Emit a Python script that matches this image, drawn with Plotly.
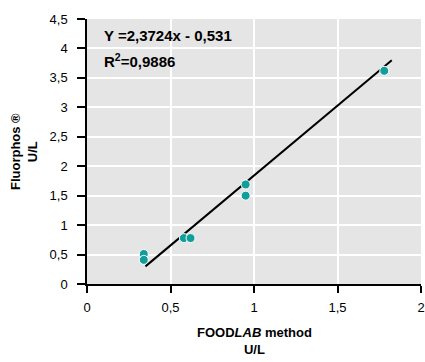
import plotly.graph_objects as go

x_vals = [0.34, 0.34, 0.58, 0.62, 0.95, 0.95, 1.78]
y_vals = [0.51, 0.41, 0.78, 0.78, 1.69, 1.50, 3.62]
slope = 2.3724
intercept = -0.531
fit_x = [0.35, 1.825]
fit_y = [slope * v + intercept for v in fit_x]
x_ticks = [0, 0.5, 1, 1.5, 2]
y_ticks = [0, 0.5, 1, 1.5, 2, 2.5, 3, 3.5, 4, 4.5]

FONT = "Liberation Sans, Arial, sans-serif"

fig = go.Figure()
fig.add_trace(go.Scatter(x=fit_x, y=fit_y, mode="lines",
                         line=dict(color="black", width=2), showlegend=False))
fig.add_trace(go.Scatter(x=x_vals, y=y_vals, mode="markers",
                         marker=dict(color="#0f9e9a", size=9, line=dict(color="white", width=1)),
                         showlegend=False))

fig.add_annotation(xref="paper", yref="paper", x=0.045, y=0.938, xanchor="left", yanchor="middle",
                   text="<b>Y =2,3724x - 0,531</b>", showarrow=False,
                   font=dict(family=FONT, size=15, color="black"))
fig.add_annotation(xref="paper", yref="paper", x=0.045, y=0.842, xanchor="left", yanchor="middle",
                   text="<b>R<sup>2</sup>=0,9886</b>", showarrow=False,
                   font=dict(family=FONT, size=15, color="black"))
# axis titles
fig.add_annotation(xref="paper", yref="paper", x=-0.19, y=0.5, xanchor="center", yanchor="middle",
                   textangle=-90, text="<b>Fluorphos ®<br>U/L</b>", showarrow=False,
                   font=dict(family=FONT, size=13, color="black"))
fig.add_annotation(xref="paper", yref="paper", x=0.5, y=-0.215, xanchor="center", yanchor="middle",
                   text="<b>FOOD<i>LAB</i> method<br>U/L</b>", showarrow=False,
                   font=dict(family=FONT, size=13, color="black"))

fig.update_layout(
    width=425, height=362,
    margin=dict(l=87, r=4, t=19, b=78),
    paper_bgcolor="white", plot_bgcolor="#e5e5e5",
    separators=",.",
    font=dict(family=FONT, size=13, color="black"),
    xaxis=dict(range=[0, 2], tickvals=x_ticks, showgrid=True, gridcolor="white", gridwidth=1.5,
               zeroline=False, showline=True, linecolor="black", linewidth=1.5,
               ticks="outside", ticklen=7, tickcolor="black", tickwidth=1.5,
               ticklabelstandoff=4, automargin=False),
    yaxis=dict(range=[0, 4.5], tickvals=y_ticks, showgrid=True, gridcolor="white", gridwidth=1.5,
               zeroline=False, showline=True, linecolor="black", linewidth=1.5,
               ticks="outside", ticklen=8, tickcolor="black", tickwidth=1.5,
               ticklabelstandoff=7, automargin=False),
)

fig.write_html("out.html", config={"displayModeBar": False},
               post_script="document.body.style.margin='0';document.body.style.overflow='hidden';")
